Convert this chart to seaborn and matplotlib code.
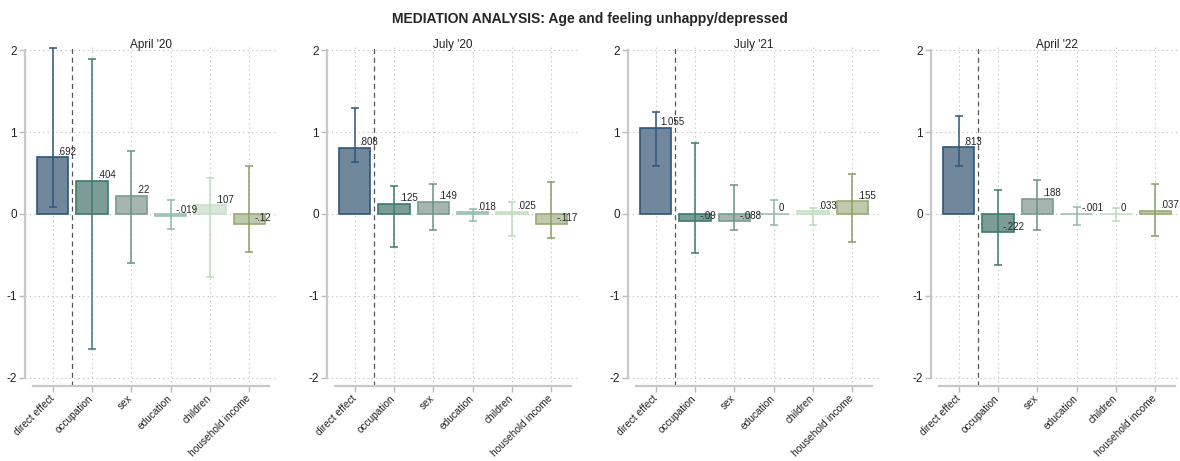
import numpy as np
import pandas as pd
import matplotlib
matplotlib.use("Agg")
import matplotlib.pyplot as plt
import seaborn as sns

categories = ["direct effect", "occupation", "sex", "education", "children", "household income"]
waves = ["April '20", "July '20", "July '21", "April '22"]

est_apr20 = [0.692, 0.404, 0.22, -0.019, 0.107, -0.12]
lo_apr20 = [0.09, -1.65, -0.60, -0.18, -0.77, -0.47]
hi_apr20 = [2.03, 1.89, 0.77, 0.17, 0.44, 0.58]

est_jul20 = [0.808, 0.125, 0.149, 0.018, 0.025, -0.117]
lo_jul20 = [0.64, -0.40, -0.20, -0.08, -0.27, -0.29]
hi_jul20 = [1.29, 0.34, 0.37, 0.06, 0.15, 0.39]

est_jul21 = [1.055, -0.09, -0.088, 0.0, 0.033, 0.155]
lo_jul21 = [0.59, -0.48, -0.20, -0.13, -0.14, -0.34]
hi_jul21 = [1.25, 0.87, 0.35, 0.17, 0.07, 0.49]

est_apr22 = [0.813, -0.222, 0.188, -0.001, 0.0, 0.037]
lo_apr22 = [0.59, -0.62, -0.20, -0.13, -0.08, -0.27]
hi_apr22 = [1.20, 0.29, 0.41, 0.09, 0.07, 0.37]

estimates = [est_apr20, est_jul20, est_jul21, est_apr22]
lowers = [lo_apr20, lo_jul20, lo_jul21, lo_apr22]
uppers = [hi_apr20, hi_jul20, hi_jul21, hi_apr22]

fill_colors = ["#6a88a3", "#76a39a", "#a3b7ae", "#b9d3cb", "#d6e8d6", "#c2cea9"]
edge_colors = ["#2f5579", "#3c7a70", "#7a9c90", "#9cc2b7", "#c6e0c6", "#98ab72"]
err_colors = ["#2f5579", "#3c7a70", "#6b9388", "#8fb8ac", "#bcdcbc", "#8c9f66"]


def fmt(v):
    if v == 0:
        return "0"
    s = f"{v:.3f}".rstrip("0").rstrip(".")
    if s.startswith("0."):
        s = s[1:]
    elif s.startswith("-0."):
        s = "-" + s[2:]
    return s


sns.set_theme(style="white")
plt.rcParams["font.family"] = ["Liberation Sans", "DejaVu Sans"]

fig = plt.figure(figsize=(11.8, 4.61), dpi=100)
lefts_px = [25, 327, 628, 931]
W, H = 1180, 461

for k, wave in enumerate(waves):
    ax = fig.add_axes([lefts_px[k] / W, (461 - 386) / H, 252 / W, 340 / H])
    df = pd.DataFrame({"cat": categories, "val": estimates[k]})
    sns.barplot(data=df, x="cat", y="val", hue="cat", palette=fill_colors,
                legend=False, width=0.8, ax=ax, zorder=3, errorbar=None)
    for p, ec in zip(ax.patches, edge_colors):
        p.set_edgecolor(ec)
        p.set_linewidth(1.2)
    x = np.arange(len(categories))
    est = np.array(estimates[k])
    lo = np.array(lowers[k])
    hi = np.array(uppers[k])
    for i in range(len(categories)):
        ax.errorbar(x[i], est[i], yerr=[[est[i] - lo[i]], [hi[i] - est[i]]],
                    fmt="none", ecolor=err_colors[i], elinewidth=1.1,
                    capsize=3, capthick=1.1, zorder=4)
        ax.annotate(fmt(est[i]), xy=(x[i], est[i]), xytext=(3.5, 4),
                    textcoords="offset points", ha="left", va="center",
                    fontsize=7, color="#222222", zorder=5)
    ax.axvline(0.5, color="#555555", ls=(0, (4, 3)), lw=0.9, zorder=2)
    ax.set_xlim(-0.7, 5.7)
    ax.set_ylim(-2.1, 2.05)
    ax.set_yticks([-2, -1, 0, 1, 2])
    ax.set_yticklabels(["-2", "-1", "0", "1", "2"], fontsize=8.5)
    ax.set_xticks(x)
    ax.set_xticklabels(categories, rotation=45, ha="right", va="center",
                       rotation_mode="anchor", fontsize=7.3)
    ax.set_xlabel("")
    ax.set_ylabel("")
    ax.grid(True, axis="both", ls=(0, (1, 3)), color="#bbbbbb", lw=0.8, zorder=0)
    for s in ["top", "right"]:
        ax.spines[s].set_visible(False)
    ax.spines["left"].set_color("#c8c8c8")
    ax.spines["left"].set_linewidth(1.6)
    ax.spines["left"].set_bounds(-2, 2)
    ax.spines["bottom"].set_color("#c8c8c8")
    ax.spines["bottom"].set_linewidth(1.6)
    ax.spines["bottom"].set_bounds(-0.5, 5.5)
    ax.tick_params(axis="both", which="both", length=4, color="#bbbbbb",
                   width=1, pad=2, labelcolor="#222222")
    ax.tick_params(axis="x", bottom=True, pad=4)
    ax.tick_params(axis="y", left=True)
    ax.set_title(wave, fontsize=8.5, pad=0, y=0.995, color="#222222")

fig.suptitle("MEDIATION ANALYSIS: Age and feeling unhappy/depressed",
             fontsize=10, fontweight="bold", y=0.975)
fig.savefig("out.png", dpi=100)
